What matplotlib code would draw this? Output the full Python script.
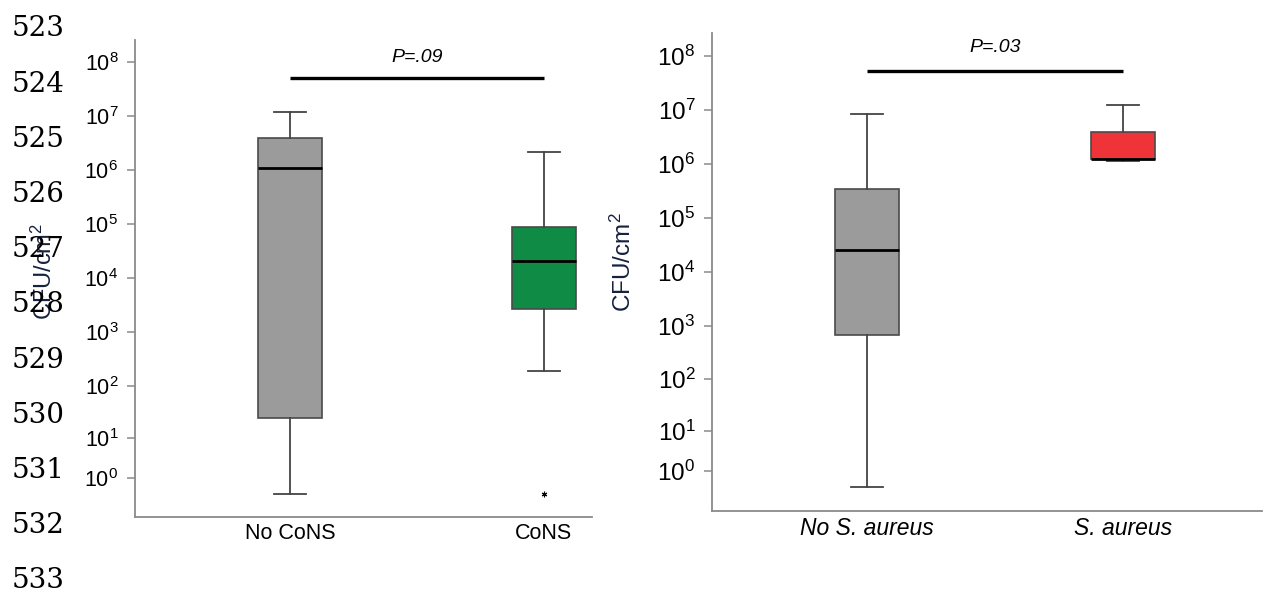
import numpy as np
import matplotlib
matplotlib.use("Agg")
import matplotlib.pyplot as plt

plt.rcParams['font.family'] = ['Liberation Sans', 'DejaVu Sans']
plt.rcParams['mathtext.fontset'] = 'custom'
plt.rcParams['mathtext.rm'] = 'Liberation Sans'
plt.rcParams['mathtext.it'] = 'Liberation Sans:italic'
plt.rcParams['mathtext.default'] = 'regular'

# ---------------- data ----------------
line_numbers = list(range(523, 534))

left_categories = ["No CoNS", "CoNS"]
left_whislo = [0, 189]
left_q1 = [24.5, 2.67e3]
left_med = [1.09e6, 2.07e4]
left_q3 = [3.9e6, 8.8e4]
left_whishi = [1.19e7, 2.15e6]
left_fliers = [[], [0]]
left_colors = ["#9b9b9b", "#0f8b45"]
left_p = "P=.09"
left_bar_value = 5.0e7

right_categories = ["No S. aureus", "S. aureus"]
right_whislo = [0, 1.15e6]
right_q1 = [666, 1.23e6]
right_med = [2.5e4, 1.23e6]
right_q3 = [3.4e5, 3.9e6]
right_whishi = [8.4e6, 1.23e7]
right_fliers = [[], []]
right_colors = ["#9b9b9b", "#ee3339"]
right_p = "P=.03"
right_bar_value = 5.2e7

tick_exponents = list(range(0, 9))
ylabel = "CFU/cm$^2$"

# ---------------- helpers ----------------
def fwd(y):
    y = np.asarray(y, dtype=float)
    return np.log10(np.maximum(y + 1.0, 1e-12))

def inv(t):
    t = np.asarray(t, dtype=float)
    return 10.0 ** t - 1.0

W, H = 1264, 595
fig = plt.figure(figsize=(W / 100, H / 100), dpi=100)

def px_axes(x0, y0, x1, y1):
    return fig.add_axes([x0 / W, 1 - y1 / H, (x1 - x0) / W, (y1 - y0) / H])

spine_col = "#8a8a8a"

def make_panel(ax, cats, wlo, q1, med, q3, whi, fl, colors, ptxt, pval,
               ylim_t, xlim, tick_fs, xtick_fs, italic, p_y_t):
    ax.set_yscale('function', functions=(fwd, inv))
    stats = []
    for i in range(len(cats)):
        stats.append(dict(med=med[i], q1=q1[i], q3=q3[i], whislo=wlo[i],
                          whishi=whi[i], fliers=fl[i], label=cats[i]))
    bp = ax.bxp(stats, positions=[1, 2], widths=0.25, patch_artist=True,
                showfliers=True,
                boxprops=dict(edgecolor="#4a4a4a", linewidth=1.2),
                medianprops=dict(color="black", linewidth=2.0),
                whiskerprops=dict(color="#444444", linewidth=1.3),
                capprops=dict(color="#444444", linewidth=1.3),
                capwidths=0.125,
                flierprops=dict(marker=(6, 2, 0), markersize=4,
                                markeredgecolor="black", markerfacecolor="black",
                                markeredgewidth=0.8, linestyle='none'))
    for patch, c in zip(bp['boxes'], colors):
        patch.set_facecolor(c)
    ax.set_ylim(inv(ylim_t[0]), inv(ylim_t[1]))
    ax.set_xlim(*xlim)
    ax.set_yticks([10.0 ** k for k in tick_exponents])
    ax.set_yticklabels([f"$10^{{{k}}}$" for k in tick_exponents])
    ax.tick_params(axis='y', length=6, width=1.1, color=spine_col, pad=6,
                   labelsize=tick_fs, labelcolor='black')
    ax.tick_params(axis='x', length=0, pad=4, labelsize=xtick_fs)
    ax.set_xticks([1, 2])
    ax.set_xticklabels(cats, style='italic' if italic else 'normal')
    ax.minorticks_off()
    for s in ['top', 'right']:
        ax.spines[s].set_visible(False)
    for s in ['left', 'bottom']:
        ax.spines[s].set_color(spine_col)
        ax.spines[s].set_linewidth(1.3)
    ax.plot([1, 2], [pval, pval], color='black', linewidth=2.4,
            solid_capstyle='butt')
    ax.text(1.5, inv(p_y_t), ptxt, ha='center', va='center', fontsize=14,
            style='italic')

axL = px_axes(135, 40, 592, 517)
make_panel(axL, left_categories, left_whislo, left_q1, left_med, left_q3,
           left_whishi, left_fliers, left_colors, left_p, left_bar_value,
           (-0.421, 8.407), (0.390, 2.189), 15.5, 15.5, False, 8.09)

axR = px_axes(712, 33, 1262, 511)
make_panel(axR, right_categories, right_whislo, right_q1, right_med, right_q3,
           right_whishi, right_fliers, right_colors, right_p, right_bar_value,
           (-0.441, 8.427), (0.394, 2.543), 17.5, 16.5, True, 8.15)

label_col = "#16213f"
fig.text(44 / W, 1 - 271 / H, ylabel, rotation=90, ha='center', va='center',
         fontsize=17, color=label_col)
fig.text(623 / W, 1 - 262 / H, ylabel, rotation=90, ha='center', va='center',
         fontsize=17.5, color=label_col)

for i, n in enumerate(line_numbers):
    fig.text(12 / W, 1 - (29 + 55.2 * i) / H, str(n), ha='left', va='center',
             fontsize=20, family='DejaVu Serif', color='black')

fig.savefig("out.png", dpi=100)
